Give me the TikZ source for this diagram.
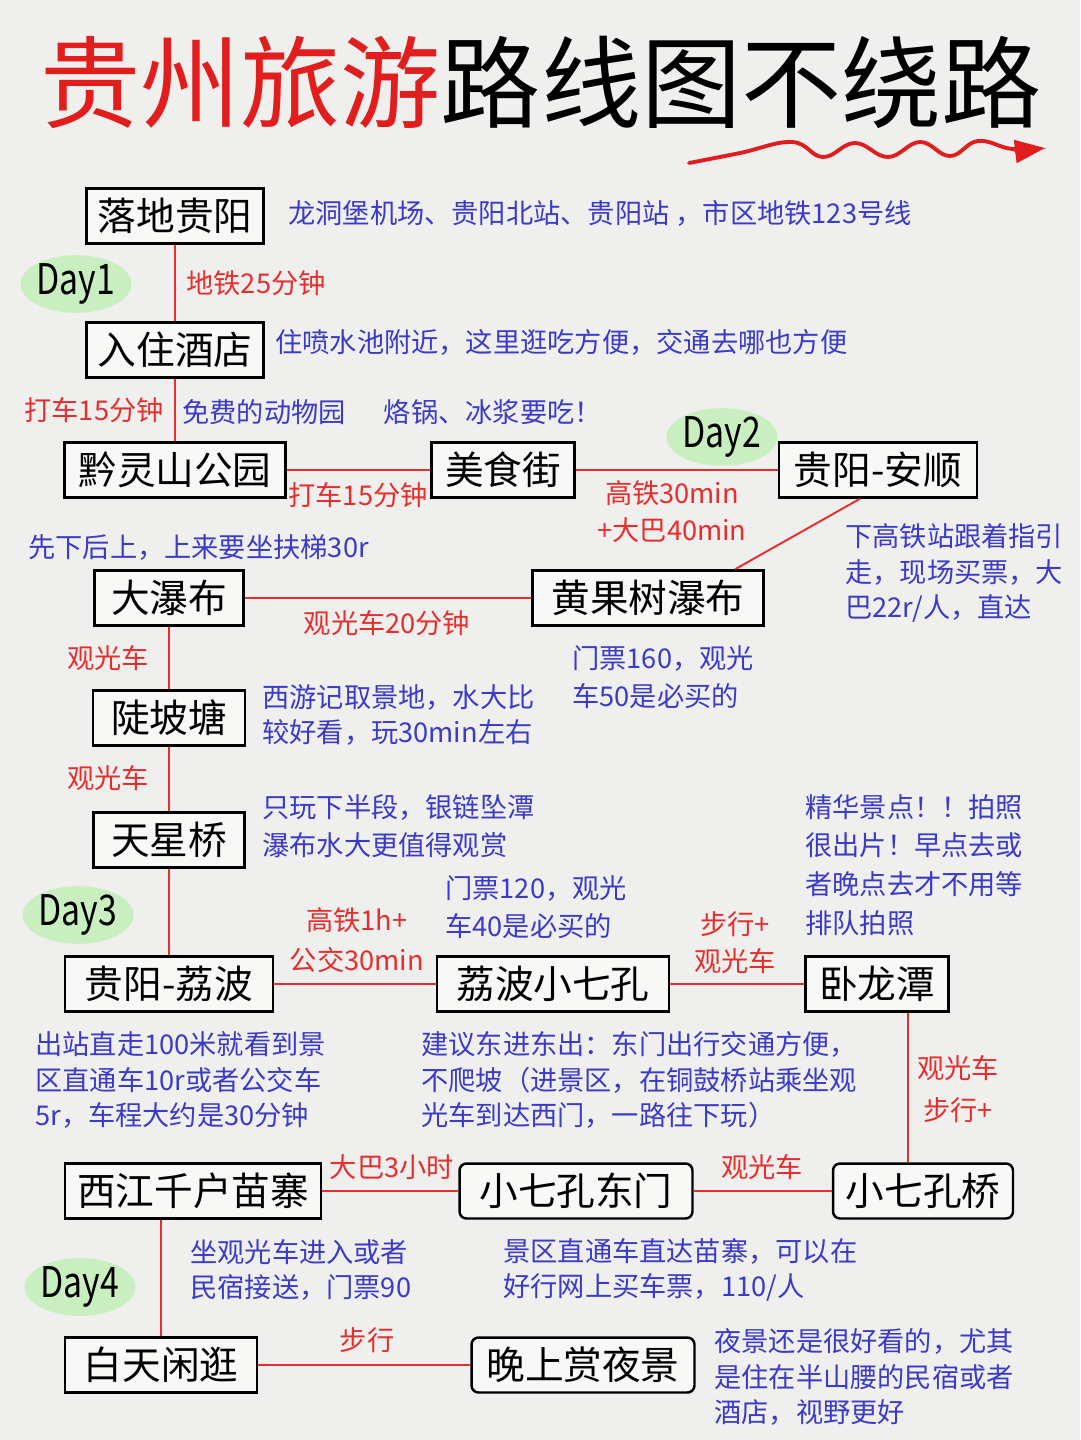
\documentclass[tikz,border=0pt]{standalone}
\usepackage{fontspec}
\setmainfont{Noto Sans CJK SC}
\usetikzlibrary{positioning,arrows.meta,calc,shapes.geometric}

\definecolor{bg}{HTML}{EFEFED}
\definecolor{routered}{HTML}{E62E2E}
\definecolor{noteblue}{HTML}{3B3BC8}
\definecolor{titlered}{HTML}{E21D1D}
\definecolor{dayg}{HTML}{C9EEC0}

\begin{document}
\begin{tikzpicture}[
    x=0.02cm, y=-0.02cm,
    box/.style={draw, line width=1.4pt, fill=white!55!bg, minimum height=1.1cm, inner sep=0pt, font=\fontsize{22}{24}\selectfont},
    rbox/.style={box, rounded corners=4pt},
    note/.style={text=noteblue, anchor=west, inner sep=0pt, align=left, font=\fontsize{15.5}{20}\selectfont},
    widenote/.style={note, font=\fontsize{15.5}{22}\selectfont},
    lbl/.style={text=routered, inner sep=0pt, align=center, font=\fontsize{15.5}{21}\selectfont},
    route/.style={draw=routered, line width=1.1pt},
    day/.style={ellipse, fill=dayg, inner sep=0pt, minimum width=1.85cm, minimum height=1cm, font=\fontsize{24}{26}\selectfont}
]
\fill[bg] (0,0) rectangle (1080,1440);
\useasboundingbox (0,0) rectangle (1080,1440);

% title
\node[anchor=west, inner sep=0pt, font=\fontsize{57}{60}\selectfont] (title) at (40,82) {\textcolor{titlered}{贵州旅游}路线图不绕路};
\draw[titlered, line width=2.2pt, line cap=round, -{Triangle[length=0.6cm, width=0.45cm]}]
    plot[smooth, tension=0.7] coordinates {(689,163) (740,153) (792,142) (823,157) (855,143) (888,157) (920,142) (950,156) (978,141) (1012,149) (1045,148)};

% days
\node[day] (d1) at (76,284) {\scalebox{0.8}[1]{Day1}};
\node[day] (d2) at (722,437) {\scalebox{0.8}[1]{Day2}};
\node[day] (d3) at (78,915) {\scalebox{0.8}[1]{Day3}};
\node[day] (d4) at (80,1287) {\scalebox{0.8}[1]{Day4}};

% stops
\node[box, minimum width=3.54cm] (ldgy) at (175,216) {落地贵阳};
\node[box, minimum width=3.54cm] (rzjd) at (175,350) {入住酒店};
\node[box, minimum width=4.42cm] (qls) at (175,470) {黔灵山公园};
\node[box, minimum width=2.86cm] (msj) at (503,470) {美食街};
\node[box, minimum width=3.96cm] (gyas) at (878,470) {贵阳-安顺};
\node[box, minimum width=2.98cm] (dpb) at (169,598) {大瀑布};
\node[box, minimum width=4.62cm] (hgs) at (648,598) {黄果树瀑布};
\node[box, minimum width=3.04cm] (dpt) at (169,718) {陡坡塘};
\node[box, minimum width=3.02cm] (txq) at (169,840) {天星桥};
\node[box, minimum width=4.16cm] (gylb) at (169,984) {贵阳-荔波};
\node[box, minimum width=4.64cm] (lbqk) at (553,984) {荔波小七孔};
\node[box, minimum width=2.86cm] (wlt) at (877,984) {卧龙潭};
\node[box, minimum width=5.12cm] (xjmz) at (193,1191) {西江千户苗寨};
\node[rbox, minimum width=4.66cm] (dm) at (576,1191) {小七孔东门};
\node[rbox, minimum width=3.6cm] (qkq) at (923,1191) {小七孔桥};
\node[box, minimum width=3.84cm] (btxg) at (161,1365) {白天闲逛};
\node[rbox, minimum width=4.46cm] (wsyj) at (583,1365) {晚上赏夜景};

% route
\draw[route] (ldgy) -- (rzjd);
\draw[route] (rzjd) -- (qls);
\draw[route] (qls) -- (msj);
\draw[route] (msj) -- (gyas);
\draw[route] ([xshift=-0.36cm]gyas.south) -- ([xshift=1.74cm]hgs.north);
\draw[route] (hgs) -- (dpb);
\draw[route] (dpb) -- (dpt);
\draw[route] (dpt) -- (txq);
\draw[route] (txq) -- (gylb);
\draw[route] (gylb) -- (lbqk);
\draw[route] (lbqk) -- (wlt);
\draw[route] ([xshift=0.62cm]wlt.south) -- ([xshift=0.62cm]wlt.south |- qkq.north);
\draw[route] (qkq) -- (dm);
\draw[route] (dm) -- (xjmz);
\draw[route] (btxg.north |- xjmz.south) -- (btxg.north);
\draw[route] (btxg) -- (wsyj);

% transport labels
\node[lbl] (l1) at (256,283) {地铁25分钟};
\node[lbl] (l2) at (94,410) {打车15分钟};
\node[lbl] (l3) at (358,495) {打车15分钟};
\node[lbl] (l4) at (672,512) {高铁30min\\+大巴40min};
\node[lbl] (l5) at (387,623) {观光车20分钟};
\node[lbl] (l6) at (108,658) {观光车};
\node[lbl] (l7) at (108,778) {观光车};
\node[lbl, font=\fontsize{15.5}{23}\selectfont] (l8) at (357,940) {高铁1h+\\公交30min};
\node[lbl] (l9) at (735,943) {步行+\\观光车};
\node[lbl, font=\fontsize{15.5}{24}\selectfont] (l10) at (958,1089) {观光车\\步行+};
\node[lbl] (l11) at (392,1167) {大巴3小时};
\node[lbl] (l12) at (762,1167) {观光车};
\node[lbl] (l13) at (367,1340) {步行};

% notes
\node[note] (n1) at (288,213) {龙洞堡机场、贵阳北站、贵阳站 ，市区地铁123号线};
\node[note] (n2) at (275,342) {住喷水池附近，这里逛吃方便，交通去哪也方便};
\node[note] (n3) at (182,412) {免费的动物园\hspace{1.4em}烙锅、冰浆要吃！};
\node[note] (n4) at (28,548) {先下后上，上来要坐扶梯30r};
\node[note] (n5) at (845,573) {下高铁站跟着指引\\走，现场买票，大\\巴22r/人，直达};
\node[widenote] (n6) at (572,677) {门票160，观光\\车50是必买的};
\node[note] (n7) at (262,715) {西游记取景地，水大比\\较好看，玩30min左右};
\node[widenote] (n8) at (262,826) {只玩下半段，银链坠潭\\瀑布水大更值得观赏};
\node[widenote] (n9) at (805,865) {精华景点！！拍照\\很出片！早点去或\\者晚点去才不用等\\排队拍照};
\node[widenote] (n10) at (445,907) {门票120，观光\\车40是必买的};
\node[note] (n11) at (35,1080) {出站直走100米就看到景\\区直通车10r或者公交车\\5r，车程大约是30分钟};
\node[note] (n12) at (421,1080) {建议东进东出：东门出行交通方便，\\不爬坡（进景区，在铜鼓桥站乘坐观\\光车到达西门，一路往下玩）};
\node[note] (n13) at (190,1270) {坐观光车进入或者\\民宿接送，门票90};
\node[note] (n14) at (503,1270) {景区直通车直达苗寨，可以在\\好行网上买车票，110/人};
\node[note] (n15) at (714,1377) {夜景还是很好看的，尤其\\是住在半山腰的民宿或者\\酒店，视野更好};
\end{tikzpicture}
\end{document}
